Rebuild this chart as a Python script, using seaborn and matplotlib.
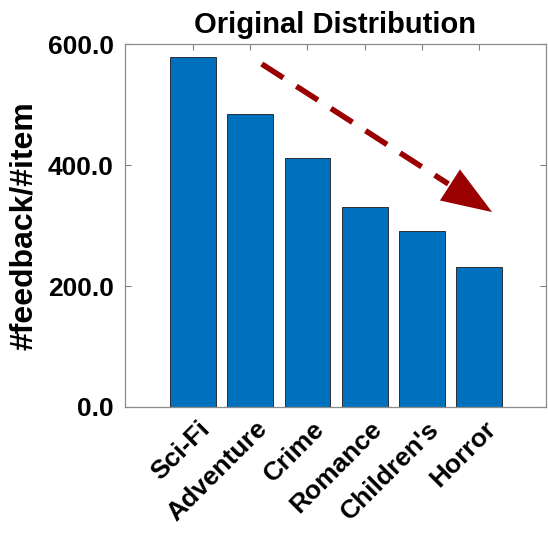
import numpy as np
import pandas as pd
import seaborn as sns
import matplotlib
matplotlib.use("Agg")
import matplotlib.pyplot as plt
import matplotlib.transforms as mtransforms

genres = ["Sci-Fi", "Adventure", "Crime", "Romance", "Children's", "Horror"]
ratio = [579, 485, 412, 330, 291, 232]
yticks = [0, 200, 400, 600]

df = pd.DataFrame({"genre": genres, "ratio": ratio})

sns.set_style("white")
plt.rcParams["font.family"] = ["Liberation Sans", "DejaVu Sans"]
plt.rcParams["font.weight"] = "bold"
plt.rcParams["text.color"] = "black"
plt.rcParams["axes.labelcolor"] = "black"
plt.rcParams["xtick.labelcolor"] = "black"
plt.rcParams["ytick.labelcolor"] = "black"

fig = plt.figure(figsize=(5.48, 5.33), dpi=100)
ax = fig.add_axes([0.228, 0.2364, 0.7684, 0.681])

sns.barplot(data=df, x="genre", y="ratio", color="#0072BD", saturation=1,
            width=0.8, edgecolor="#1a1a1a", linewidth=0.6, ax=ax)

ax.set_xlim(-1.19, 6.17)
ax.set_ylim(0, 600)
ax.set_yticks(yticks)
ax.set_yticklabels([f"{v:.1f}" for v in yticks], fontsize=19, fontweight="bold")
ax.set_xticks(range(len(genres)))
ax.set_xticklabels(genres, fontsize=19, fontweight="bold", rotation=45,
                   ha="right", rotation_mode="anchor")
ax.tick_params(direction="in", length=4, width=0.8, color="#808080",
               top=True, right=True, bottom=True, left=True, pad=8)
ax.tick_params(axis="x", pad=7)
# nudge rotated labels a little to the right, like the original
shift = mtransforms.ScaledTranslation(5 / 100, 0, fig.dpi_scale_trans)
for lbl in ax.get_xticklabels():
    lbl.set_transform(lbl.get_transform() + shift)
for s in ax.spines.values():
    s.set_visible(True)
    s.set_color("#8c8c8c")
    s.set_linewidth(0.9)

ax.set_xlabel("")
ax.set_ylabel("#feedback/#item", fontsize=23, fontweight="bold", labelpad=6,
              color="black")
ax.set_title("Original Distribution", fontsize=21, fontweight="bold", pad=8,
             color="black")

# trend arrow
start = np.array([0.325, 0.945])
tip = np.array([0.872, 0.537])
d = tip - start
base = tip - d * 0.19
ax.plot([start[0], base[0]], [start[1], base[1]], transform=ax.transAxes,
        color="#9B0000", lw=4, linestyle=(0, (4.6, 2.8)), solid_capstyle="butt",
        dash_capstyle="butt", clip_on=False)
ax.annotate("", xy=tip, xycoords="axes fraction", xytext=base - d * 0.01,
            textcoords="axes fraction",
            arrowprops=dict(arrowstyle="-|>,head_length=1.9,head_width=0.7",
                            color="#9B0000", lw=0, mutation_scale=19,
                            shrinkA=0, shrinkB=0))

fig.savefig("out.png", dpi=100)
